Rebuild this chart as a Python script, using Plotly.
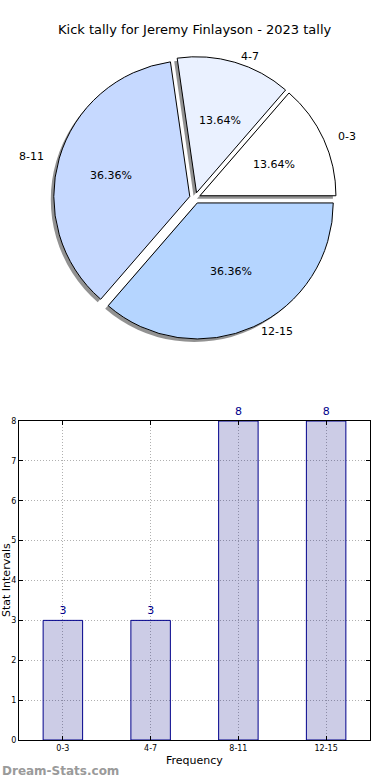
import math
import plotly.graph_objects as go

categories = ["0-3", "4-7", "8-11", "12-15"]
counts = [3, 3, 8, 8]
pie_colors = ["#ffffff", "#eaf1ff", "#c6d9ff", "#b5d5ff"]
title_text = "Kick tally for Jeremy Finlayson - 2023 tally"

W, H = 390, 780
FONT = "DejaVu Sans"

# pie geometry (pixels)
cx, cy = 195, 198
r = 136
pull = 0.04
half = r * (1 + pull)
total = sum(counts)
# plotly counterclockwise: first slice lies clockwise of the rotation line
rotation = 90 - 360 * counts[0] / total

def px_dom_x(a, b):
    return [a / W, b / W]

def px_dom_y(top, bottom):
    return [1 - bottom / H, 1 - top / H]

fig = go.Figure()

# shadow pie
sdx, sdy = -3, 3
fig.add_trace(go.Pie(
    labels=categories, values=counts, sort=False, direction="counterclockwise",
    rotation=rotation, pull=[pull] * len(counts),
    marker=dict(colors=["rgba(100,100,100,0.7)"] * len(counts), line=dict(width=0)),
    textinfo="none", hoverinfo="skip", showlegend=False,
    domain=dict(x=px_dom_x(cx - half + sdx, cx + half + sdx),
                y=px_dom_y(cy - half + sdy, cy + half + sdy)),
))
# main pie
fig.add_trace(go.Pie(
    labels=categories, values=counts, sort=False, direction="counterclockwise",
    rotation=rotation, pull=[pull] * len(counts),
    marker=dict(colors=pie_colors, line=dict(color="black", width=1)),
    textinfo="none", showlegend=False,
    domain=dict(x=px_dom_x(cx - half, cx + half), y=px_dom_y(cy - half, cy + half)),
))

annotations = []
cum = 0
for lab, v in zip(categories, counts):
    mid = (cum + v / 2) / total * 2 * math.pi
    cum += v
    c, s = math.cos(mid), math.sin(mid)
    off = r * pull
    # percentage label
    pr = 0.6 * r + off
    annotations.append(dict(
        x=(cx + pr * c) / W, y=1 - (cy - pr * s * 0.93) / H, xref="paper", yref="paper",
        text=f"{v / total * 100:.2f}%", showarrow=False,
        font=dict(family=FONT, size=11, color="black"),
        xanchor="center", yanchor="middle"))
    # category label
    lr = 1.1 * r + off
    annotations.append(dict(
        x=(cx + lr * c) / W, y=1 - (cy - lr * s * 0.95) / H, xref="paper", yref="paper",
        text=lab, showarrow=False, font=dict(family=FONT, size=11, color="black"),
        xanchor="left" if c > 0 else "right", yanchor="middle"))

# bar chart
fig.add_trace(go.Bar(
    x=categories, y=counts, width=0.45,
    marker=dict(color="rgba(0,0,128,0.2)", line=dict(color="#00008b", width=1)),
    text=[str(v) for v in counts], textposition="outside", cliponaxis=False,
    textfont=dict(family=FONT, size=11, color="#00008b"),
    showlegend=False, xaxis="x", yaxis="y",
))

annotations += [
    dict(x=0.5, y=1 - 30 / H, xref="paper", yref="paper", text=title_text,
         showarrow=False, font=dict(family=FONT, size=13, color="black"),
         xanchor="center", yanchor="middle"),
    dict(x=6 / W, y=1 - 580 / H, xref="paper", yref="paper", text="Stat Intervals",
         textangle=-90, showarrow=False, font=dict(family=FONT, size=11, color="black"),
         xanchor="center", yanchor="middle"),
    dict(x=(19 + 370) / 2 / W, y=1 - 760 / H, xref="paper", yref="paper", text="Frequency",
         showarrow=False, font=dict(family=FONT, size=11, color="black"),
         xanchor="center", yanchor="middle"),
    dict(x=0, y=1 - 771 / H, xref="paper", yref="paper", text="<b>Dream-Stats.com</b>",
         showarrow=False, font=dict(family=FONT, size=12, color="#9a9a9a"),
         xanchor="left", yanchor="middle"),
]

axis_common = dict(
    showline=True, linecolor="black", linewidth=1, mirror="ticks",
    ticks="inside", ticklen=4, tickcolor="black", automargin=False,
    showgrid=True, gridcolor="#b0b0b0", griddash="1px,2px", gridwidth=1,
    zeroline=False, tickfont=dict(family=FONT, size=8, color="black"),
)

fig.update_layout(
    template="none",
    font=dict(family=FONT, size=11, color="black"),
    width=W, height=H, margin=dict(l=0, r=0, t=0, b=0, pad=0, autoexpand=False),
    paper_bgcolor="white", plot_bgcolor="white",
    xaxis=dict(domain=[19 / W, 370 / W], anchor="y", range=[-0.5, 3.5], **axis_common),
    yaxis=dict(domain=[1 - 740 / H, 1 - 421 / H], anchor="x", range=[0, 8], dtick=1,
               **axis_common),
    annotations=annotations,
)

fig.write_html(
    "out.html",
    config={"displayModeBar": False, "responsive": False},
    post_script="document.body.style.margin='0';document.body.style.overflow='hidden';",
)
